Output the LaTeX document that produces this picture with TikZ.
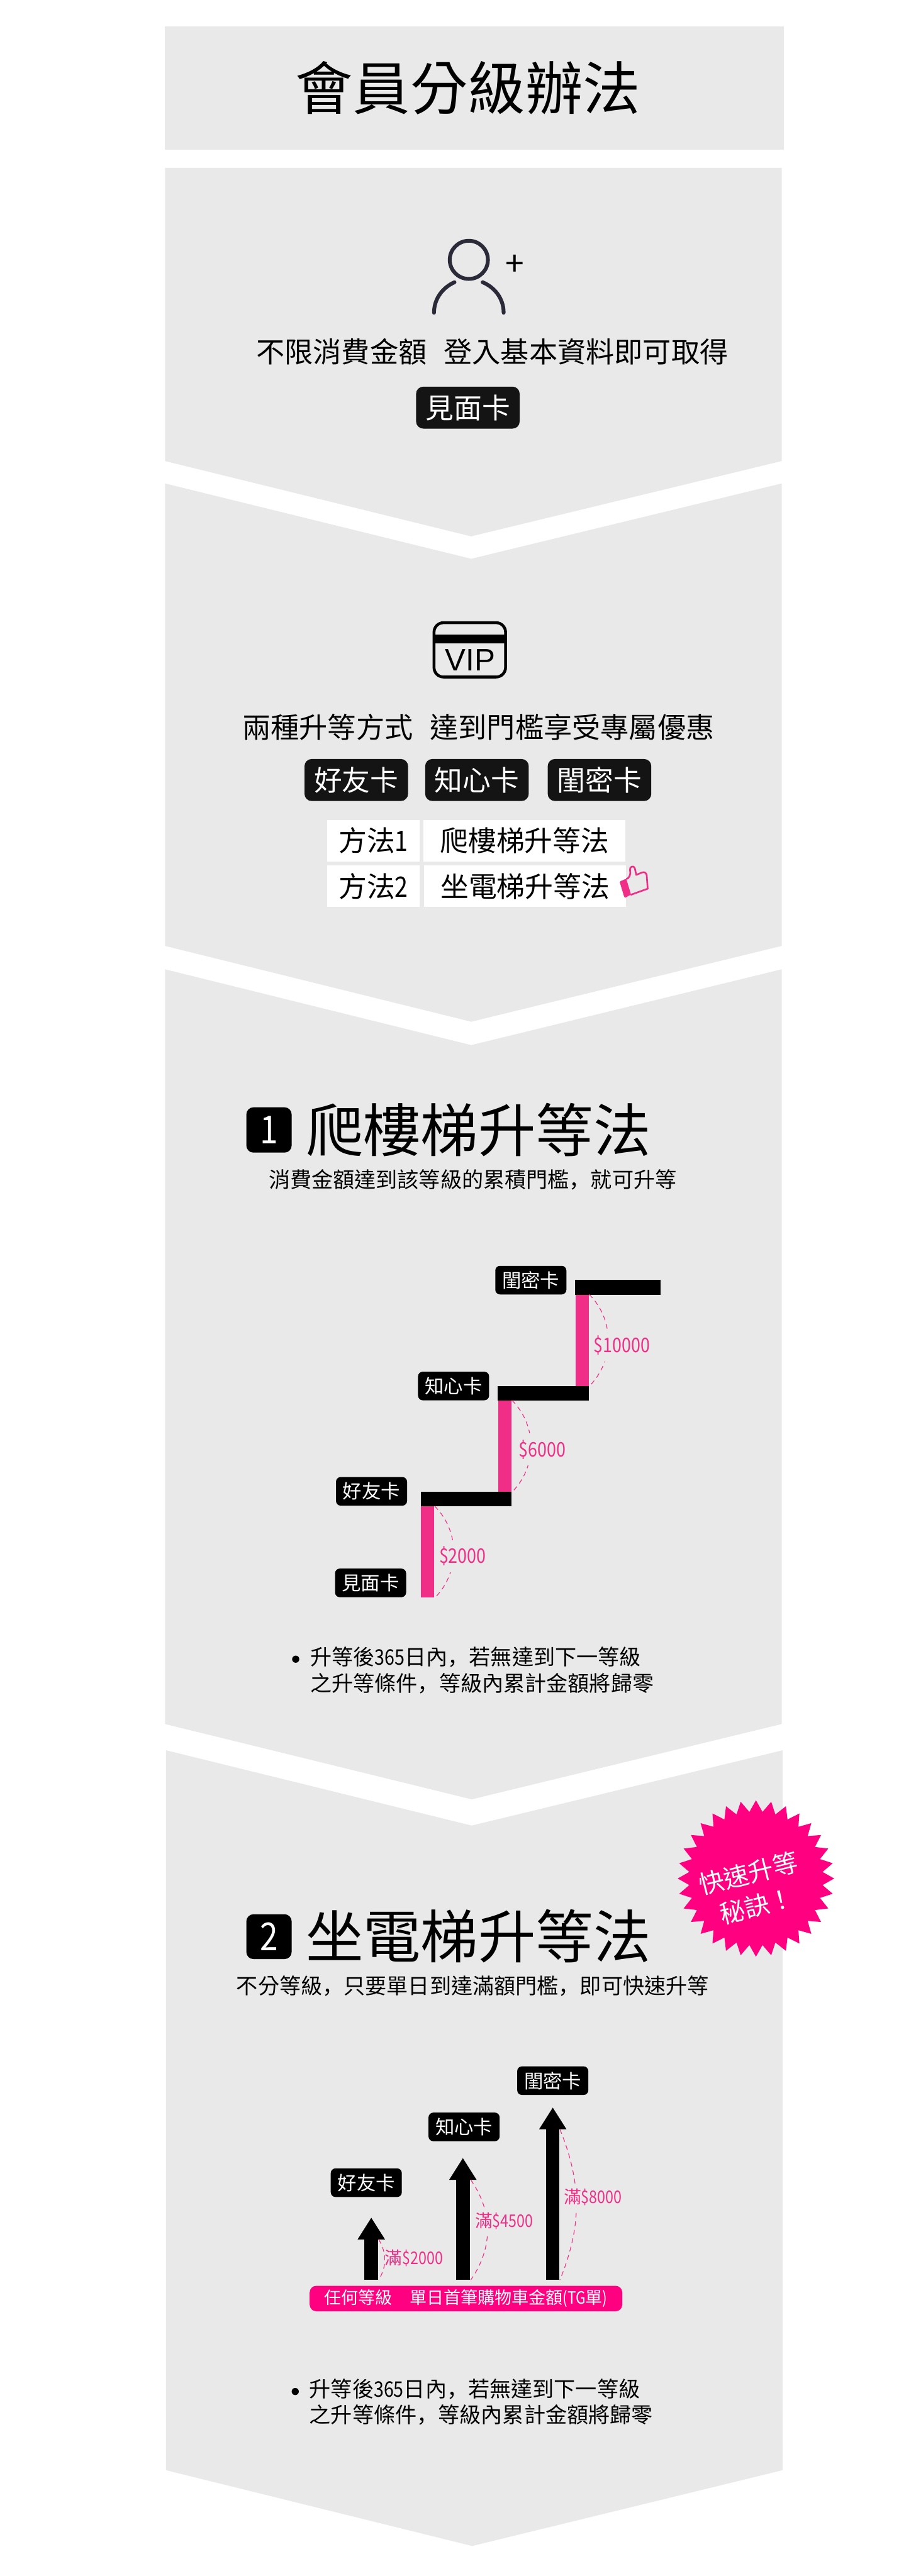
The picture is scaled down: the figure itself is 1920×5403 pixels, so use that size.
\documentclass[tikz,border=0pt]{standalone}
\usepackage{fontspec}
\setmainfont{Noto Sans CJK TC}
\newfontfamily\narrowfont[FakeStretch=0.84]{Noto Sans CJK TC}
\newfontfamily\commafont{Noto Sans CJK SC}
\newfontfamily\vipfont{Liberation Sans}
\usetikzlibrary{arrows.meta,shapes.geometric}
\definecolor{panelgray}{HTML}{E9E9E9}
\definecolor{rosepink}{HTML}{F02E87}
\definecolor{hotpink}{HTML}{FF0080}
\definecolor{tagblack}{HTML}{141414}
\definecolor{iconink}{HTML}{2A2A38}
\newcommand{\cma}{{\commafont ，}}
\newcommand{\nar}[1]{{\narrowfont #1}}
\tikzset{
  panel/.style = {fill = panelgray},
  bodytext/.style = {inner sep = 0, font = \fontsize{16.95pt}{20pt}\selectfont},
  headtext/.style = {inner sep = 0, font = \fontsize{34.3pt}{40pt}\selectfont},
  subtext/.style = {inner sep = 0, align = left, font = \fontsize{12.8pt}{15.65pt}\selectfont},
  bigtag/.style = {fill = tagblack, text = white, rounded corners = 0.15cm, minimum width = 2.17cm,
    minimum height = 0.88cm, inner sep = 0, font = \fontsize{16.8pt}{20pt}\selectfont},
  smalltag/.style = {fill = black, text = white, rounded corners = 0.1cm, minimum width = 1.49cm,
    minimum height = 0.6cm, inner sep = 0, font = \fontsize{11.4pt}{14pt}\selectfont},
  numtag/.style = {fill = black, text = white, rounded corners = 0.15cm, minimum width = 0.95cm, inner sep = 0,
    font = \narrowfont\fontsize{23pt}{27pt}\selectfont},
  whitebox/.style = {fill = white, inner sep = 0, minimum height = 0.87cm, font = \fontsize{16.8pt}{20pt}\selectfont},
  tread/.style = {fill = black, anchor = north west, inner sep = 0, minimum height = 0.31cm},
  riser/.style = {fill = rosepink, anchor = north west, inner sep = 0, minimum width = 0.28cm},
  costarc/.style = {rosepink, line width = 0.015cm, dash pattern = on 0.1cm off 0.08cm},
  costtext/.style = {fill = panelgray, text = rosepink, inner xsep = 0, inner ysep = 0.13cm,
    font = \narrowfont\fontsize{12pt}{14pt}\selectfont},
  fulltext/.style = {fill = panelgray, text = rosepink, inner xsep = 0, inner ysep = 0.08cm,
    font = \narrowfont\fontsize{10.4pt}{12pt}\selectfont},
  lift/.style = {line width = 0.285cm, -{Triangle[length = 0.46cm, width = 0.54cm]}},
  dotmark/.style = {circle, fill = black, inner sep = 0, minimum size = 0.15cm},
}

\begin{document}
\begin{tikzpicture}[x = 0.01cm, y = -0.01cm]
  \useasboundingbox (0,0) rectangle (1920,5403);
  \fill[panel] (346,55) rectangle (1643,314);
  \fill[panel] (346,352) -- (1639,352) -- (1639,967) -- (988,1125) -- (346,967) -- cycle;
  \fill[panel] (346,1014) -- (988,1172) -- (1639,1014) -- (1639,1984) -- (988,2143) -- (346,1984) -- cycle;
  \fill[panel] (346,2033) -- (988,2192) -- (1639,2033) -- (1639,3616) -- (989,3774) -- (346,3616) -- cycle;
  \fill[panel] (348,3671) -- (989,3829) -- (1641,3671) -- (1641,5181) -- (990,5340) -- (348,5181) -- cycle;

  \node[headtext] (title) at (981,184) {會員分級辦法};

  % first panel
  \draw[iconink, line width = 0.08cm] (983,545) circle[radius = 40];
  \draw[iconink, line width = 0.08cm, line cap = round] (910,656) .. controls (910,625) and (930,602) .. (953,592);
  \draw[iconink, line width = 0.08cm, line cap = round] (1056,656) .. controls (1056,625) and (1036,602) .. (1012,592);
  \node[inner sep = 0, font = \fontsize{20pt}{24pt}\selectfont] (plus) at (1079,556) {+};
  \node[bodytext] (freetext) at (1032,738) {不限消費金額\hspace{0.6em}登入基本資料即可取得};
  \node[bigtag] (meetcard) at (981,855) {見面卡};

  % second panel
  \draw[black, line width = 0.06cm, rounded corners = 0.2cm] (910,1306) rectangle (1060,1420);
  \fill[black] (910,1331) rectangle (1060,1350);
  \node[inner sep = 0, font = \vipfont\fontsize{18.5pt}{22pt}\selectfont] (vip) at (986,1385) {VIP};
  \node[bodytext] (waystext) at (1003,1525) {兩種升等方式\hspace{0.6em}達到門檻享受專屬優惠};
  \node[bigtag] (friendcard) at (747,1636) {好友卡};
  \node[bigtag] (heartcard) at (1000,1636) {知心卡};
  \node[bigtag] (bestiecard) at (1257,1636) {閨密卡};
  \node[whitebox, minimum width = 1.93cm] (way1) at (783,1763) {方法\nar{1}};
  \node[whitebox, minimum width = 4.23cm] (stairs) at (1100,1763) {爬樓梯升等法};
  \node[whitebox, minimum width = 1.93cm] (way2) at (783,1859) {方法\nar{2}};
  \node[whitebox, minimum width = 4.23cm] (lifts) at (1101,1859) {坐電梯升等法};
  \draw[rosepink, line width = 0.035cm, line join = round] (1313,1844) .. controls (1320,1842) and (1323,1833) .. (1321,1825)
    .. controls (1319,1818) and (1329,1814) .. (1331,1821) -- (1334,1835) -- (1346,1830)
    .. controls (1352,1828) and (1355,1831) .. (1356,1836) -- (1358,1864) -- (1322,1877);
  \fill[rosepink, rounded corners = 0.02cm] (1299,1849) -- (1313,1843) -- (1323,1876) -- (1311,1883) -- (1309,1882) -- cycle;

  % stairs
  \node[numtag, minimum height = 0.95cm] (num1) at (564,2370) {1};
  \node[headtext] (stairtitle) at (1003,2370) {爬樓梯升等法};
  \node[subtext] (stairsub) at (991,2475) {消費金額達到該等級的累積門檻\cma 就可升等};
  \node[tread, minimum width = 1.79cm] (tread3) at (1205,2684) {};
  \node[tread, minimum width = 1.91cm] (tread2) at (1043,2906) {};
  \node[tread, minimum width = 1.9cm] (tread1) at (882,3128) {};
  \node[riser, minimum height = 1.91cm] (rise3) at (1206,2715) {};
  \node[riser, minimum height = 1.91cm] (rise2) at (1044,2937) {};
  \node[riser, minimum height = 1.91cm] (rise1) at (882,3159) {};
  \draw[costarc] (rise3.north east) to[bend left = 45] (rise3.south east);
  \draw[costarc] (rise2.north east) to[bend left = 45] (rise2.south east);
  \draw[costarc] (rise1.north east) to[bend left = 45] (rise1.south east);
  \node[costtext] (cost3) at (1304,2822) {\$10000};
  \node[costtext] (cost2) at (1137,3040) {\$6000};
  \node[costtext] (cost1) at (970,3264) {\$2000};
  \node[smalltag] (bestie1) at (1113,2685) {閨密卡};
  \node[smalltag] (heart1) at (951,2907) {知心卡};
  \node[smalltag] (friend1) at (779,3128) {好友卡};
  \node[smalltag] (meet1) at (777,3320) {見面卡};
  \node[dotmark] (dot1) at (620,3480) {};
  \node[subtext, anchor = west] (note1) at (650,3503) {升等後\nar{365}日內\cma 若無達到下一等級\\之升等條件\cma 等級內累計金額將歸零};

  % lifts
  \node[star, star points = 32, star point ratio = 1.17, fill = hotpink, minimum size = 3.28cm, inner sep = 0] (burst) at (1585,3940) {};
  \node[inner sep = 0, text = white, rotate = 14, align = center, font = \fontsize{15pt}{20pt}\selectfont] (bursttext) at (1578,3963) {快速升等\\秘訣！};
  \node[numtag, minimum height = 0.94cm] (num2) at (564,4062) {2};
  \node[headtext] (lifttitle) at (1003,4061) {坐電梯升等法};
  \node[subtext] (liftsub) at (991,4165) {不分等級\cma 只要單日到達滿額門檻\cma 即可快速升等};
  \node[smalltag] (friend2) at (768,4578) {好友卡};
  \node[smalltag] (heart2) at (973,4461) {知心卡};
  \node[smalltag] (bestie2) at (1159,4364) {閨密卡};
  \coordinate (base1) at (778.5,4782);
  \coordinate (top1) at (778.5,4651);
  \coordinate (base2) at (970.5,4782);
  \coordinate (top2) at (970.5,4526);
  \coordinate (base3) at (1159,4782);
  \coordinate (top3) at (1159,4420);
  \draw[lift] (base1) -- (top1);
  \draw[lift] (base2) -- (top2);
  \draw[lift] (base3) -- (top3);
  \coordinate (arcstart1) at (794,4697);
  \coordinate (arcend1) at (794,4782);
  \coordinate (arcstart2) at (987,4572);
  \coordinate (arcend2) at (987,4782);
  \coordinate (arcstart3) at (1174,4466);
  \coordinate (arcend3) at (1174,4782);
  \draw[costarc] (arcstart1) to[bend left = 31] (arcend1);
  \draw[costarc] (arcstart2) to[bend left = 35] (arcend2);
  \draw[costarc] (arcstart3) to[bend left = 22] (arcend3);
  \node[fulltext] (full1) at (868,4736) {{\rmfamily 滿}\$2000};
  \node[fulltext] (full2) at (1057,4658) {{\rmfamily 滿}\$4500};
  \node[fulltext] (full3) at (1243,4608) {{\rmfamily 滿}\$8000};
  \node[fill = hotpink, text = white, rounded corners = 0.14cm, minimum width = 6.55cm, minimum height = 0.535cm, inner sep = 0,
    font = \fontsize{10.15pt}{12pt}\selectfont] (anylevel) at (977,4821) {任何等級\hspace{1em}單日首筆購物車金額\nar{(TG}單\nar{)}};
  \node[dotmark] (dot2) at (619,5016) {};
  \node[subtext, anchor = west] (note2) at (648,5038) {升等後\nar{365}日內\cma 若無達到下一等級\\之升等條件\cma 等級內累計金額將歸零};
\end{tikzpicture}
\end{document}
